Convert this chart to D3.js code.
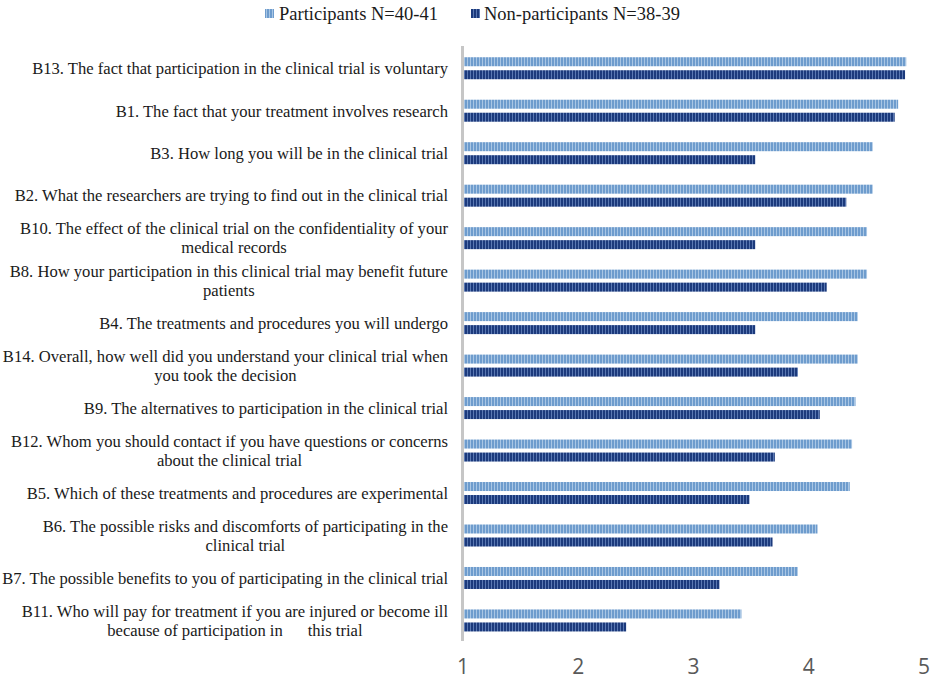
<!DOCTYPE html>
<html>
<head>
<meta charset="utf-8">
<script src="https://cdn.jsdelivr.net/npm/d3@7"></script>
<style>
  body { margin: 0; background: #fff; }
  svg { display: block; }
</style>
</head>
<body>
<svg id="chart" width="930" height="682"></svg>
<script>
const categories = [
  ["B13. The fact that participation in the clinical trial is voluntary"],
  ["B1. The fact that your treatment involves research"],
  ["B3. How long you will be in the clinical trial"],
  ["B2. What the researchers are trying to find out in the clinical trial"],
  ["B10. The effect of the clinical trial on the confidentiality of your", "medical records"],
  ["B8. How your participation in this clinical trial may benefit future", "patients"],
  ["B4. The treatments and procedures you will undergo"],
  ["B14. Overall, how well did you understand your clinical trial when", "you took the decision"],
  ["B9. The alternatives to participation in the clinical trial"],
  ["B12. Whom you should contact if you have questions or concerns", "about the clinical trial"],
  ["B5. Which of these treatments and procedures are experimental"],
  ["B6. The possible risks and discomforts of participating in the", "clinical trial"],
  ["B7. The possible benefits to you of participating in the clinical trial"],
  ["B11. Who will pay for treatment if you are injured or become ill", "because of participation in      this trial"]
];
const participants = [4.85, 4.78, 4.56, 4.56, 4.51, 4.51, 4.43, 4.43, 4.41, 4.38, 4.36, 4.08, 3.91, 3.42];
const nonParticipants = [4.84, 4.75, 3.54, 4.33, 3.54, 4.16, 3.54, 3.91, 4.10, 3.71, 3.49, 3.69, 3.23, 2.42];
const seriesNames = ["Participants N=40-41", "Non-participants N=38-39"];
const tickValues = [1, 2, 3, 4, 5];

const SERIF = "'Liberation Serif', 'Times New Roman', serif";
const svg = d3.select("#chart");
const defs = svg.append("defs");

function stripe(id, base, line) {
  const p = defs.append("pattern").attr("id", id)
    .attr("patternUnits", "userSpaceOnUse").attr("width", 3).attr("height", 10);
  p.append("rect").attr("width", 3).attr("height", 10).attr("fill", base);
  p.append("rect").attr("x", 2).attr("width", 1).attr("height", 10).attr("fill", line);
}
stripe("pPart", "#6e9ccd", "#a9c6e4");
stripe("pNon", "#1c3a7c", "#5a78b2");

const x = d3.scaleLinear().domain([1, 5]).range([462.5, 923.5]);
const idx = d3.range(categories.length);
const y = d3.scaleBand().domain(idx).range([47, 641.7]).paddingInner(0).paddingOuter(0);
const barH = 9;
const gap = 4;

const g = svg.append("g");
g.selectAll("rect.part").data(idx).join("rect")
  .attr("class", "part")
  .attr("x", x(1) + 1.5)
  .attr("y", i => y(i) + y.bandwidth() / 2 - gap / 2 - barH)
  .attr("width", i => x(participants[i]) - x(1) - 1.5)
  .attr("height", barH)
  .attr("fill", "url(#pPart)");
g.selectAll("rect.non").data(idx).join("rect")
  .attr("class", "non")
  .attr("x", x(1) + 1.5)
  .attr("y", i => y(i) + y.bandwidth() / 2 + gap / 2)
  .attr("width", i => x(nonParticipants[i]) - x(1) - 1.5)
  .attr("height", barH)
  .attr("fill", "url(#pNon)");

svg.append("line")
  .attr("x1", x(1)).attr("x2", x(1))
  .attr("y1", 46).attr("y2", 641)
  .attr("stroke", "#c6c6c6").attr("stroke-width", 3);

const xAxis = d3.axisBottom(x).tickValues(tickValues).tickSize(0).tickPadding(0).tickFormat(d3.format("d"));
const ax = svg.append("g").attr("transform", "translate(0,659)").call(xAxis);
ax.select(".domain").remove();
ax.selectAll("text")
  .style("font-family", "'Open Sans', 'Noto Sans', sans-serif")
  .style("font-size", "21px")
  .attr("fill", "#595959");

const labelRight = 448;
const lineH = 19;
const lg = svg.append("g");
categories.forEach((lines, i) => {
  const cy = y(i) + y.bandwidth() / 2;
  const tg = lg.append("g");
  const texts = lines.map((ln, k) => tg.append("text")
    .style("font-family", SERIF)
    .style("font-size", "16.6px")
    .style("white-space", "pre")
    .attr("fill", "#1a1a1a")
    .attr("y", cy + (k - (lines.length - 1) / 2) * lineH)
    .attr("dy", "0.35em")
    .attr("text-anchor", "middle")
    .text(ln));
  const w = d3.max(texts, t => t.node().getComputedTextLength());
  texts.forEach(t => t.attr("x", labelRight - w / 2));
});

const legendItems = [
  { name: seriesNames[0], fill: "url(#pPart)", sx: 265, tx: 279 },
  { name: seriesNames[1], fill: "url(#pNon)", sx: 471, tx: 484 }
];
const leg = svg.append("g");
legendItems.forEach(d => {
  leg.append("rect").attr("x", d.sx).attr("y", 9).attr("width", 9).attr("height", 9).attr("fill", d.fill);
  leg.append("text").attr("x", d.tx).attr("y", 14).attr("dy", "0.35em")
    .style("font-family", SERIF)
    .style("font-size", "18.5px").attr("fill", "#1a1a1a").text(d.name);
});
</script>
</body>
</html>
